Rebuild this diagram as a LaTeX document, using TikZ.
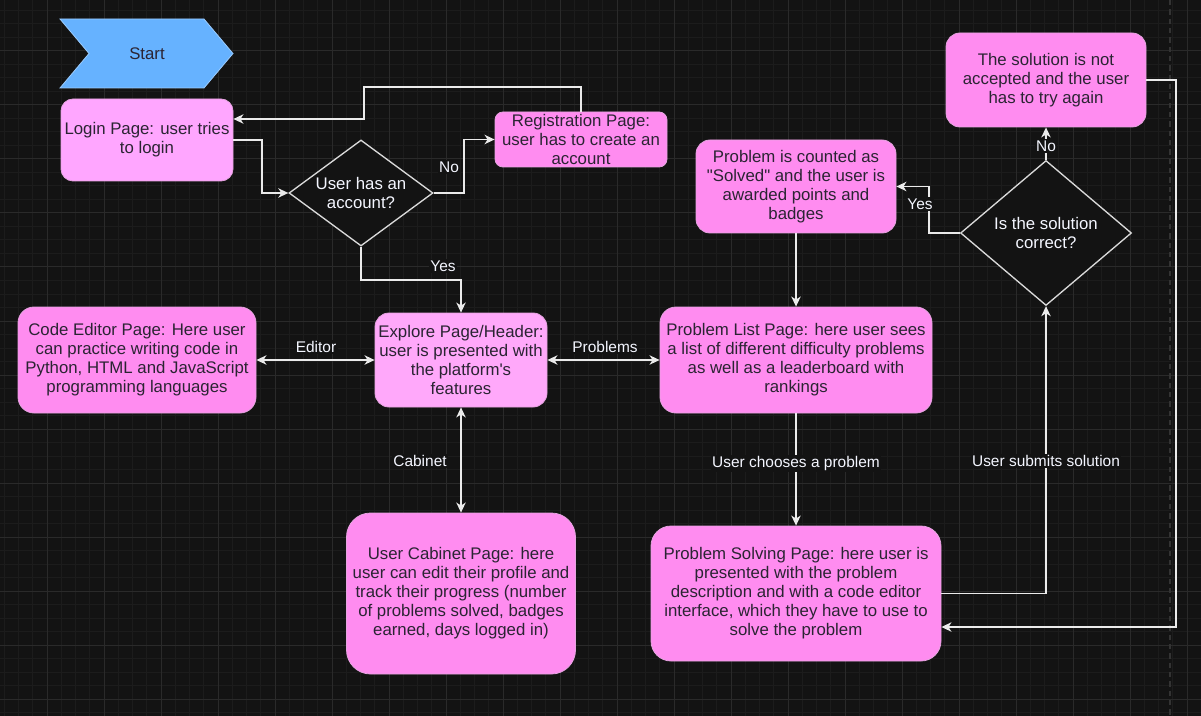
\documentclass[tikz,border=0pt]{standalone}
\usepackage{fontspec}
\setmainfont{Liberation Sans}
\usetikzlibrary{shapes.geometric,arrows.meta,calc}
\definecolor{bg}{HTML}{131313}
\definecolor{gridminor}{HTML}{1C1C1C}
\definecolor{gridmajor}{HTML}{2A2A2A}
\definecolor{pageline}{HTML}{333333}
\definecolor{pinkA}{HTML}{FFA6FF}
\definecolor{pinkE}{HTML}{FFA8FA}
\definecolor{pinkB}{HTML}{FF8CF0}
\definecolor{boxline}{HTML}{E6A3E0}
\definecolor{startfill}{HTML}{66B2FF}
\definecolor{startline}{HTML}{9ACCFF}
\definecolor{ink}{HTML}{2B2433}
\definecolor{wire}{HTML}{EBEBEB}
\definecolor{decline}{HTML}{DADADA}
\definecolor{labtext}{HTML}{F4F6FF}
\newcommand\myNodeFont{\fontsize{12.6pt}{14.25pt}\selectfont}
\newcommand\myLabFont{\fontsize{11.6pt}{13pt}\selectfont}
\tikzset{
  box/.style={rectangle, draw=boxline, line width=0.6pt, fill=pinkB, text=ink, align=center, inner sep=0pt, font=\myNodeFont},
  dec/.style={diamond, draw=decline, line width=1pt, fill=bg, inner sep=0pt},
  dectext/.style={text=labtext, font=\myNodeFont, align=center},
  conn/.style={draw=wire, line width=1.1pt, -{Stealth[length=7.5pt,width=7pt,inset=2.2pt]}},
  conntwo/.style={draw=wire, line width=1.1pt, {Stealth[length=7.5pt,width=7pt,inset=2.2pt]}-{Stealth[length=7.5pt,width=7pt,inset=2.2pt]}},
  lbl/.style={text=labtext, font=\myLabFont, fill=bg, inner sep=1pt},
}
\begin{document}
\begin{tikzpicture}[x=0.75pt,y=-0.75pt]
\fill[bg] (0,0) rectangle (1201,716);
\useasboundingbox (0,0) rectangle (1201,716);
% grid
\foreach \i in {0,...,83} \draw[gridminor, line width=0.75pt] ({4.25+\i*14.25},0) -- ({4.25+\i*14.25},716);
\foreach \i in {0,...,52} \draw[gridminor, line width=0.75pt] (0,{712.5-\i*13.5}) -- (1201,{712.5-\i*13.5});
\foreach \i in {0,...,20} \draw[gridmajor, line width=0.75pt] ({47+\i*57},0) -- ({47+\i*57},716);
\foreach \i in {0,...,12} \draw[gridmajor, line width=0.75pt] (0,{699-\i*54}) -- (1201,{699-\i*54});
\draw[pageline, line width=1pt, dash pattern=on 4pt off 3pt] (1170,0) -- (1170,716);

% start chevron
\filldraw[fill=startfill, draw=startline, line width=0.6pt]
  (60,19) -- (204,19) -- (233,53.5) -- (204,88) -- (60,88) -- (89,53.5) -- cycle;
\node[text=ink, font=\myNodeFont] (start) at (147,54) {Start};

% boxes
\node[box, fill=pinkA, minimum width=129pt, minimum height=61.5pt, rounded corners=9pt] (login) at (147,140) {Login Page: user tries\\to login};
\node[box, minimum width=129pt, minimum height=41.25pt, rounded corners=6pt] (reg) at (581,139.5) {Registration Page:\\user has to create an\\account};
\node[box, fill=pinkE, minimum width=129pt, minimum height=70.5pt, rounded corners=10.5pt] (explore) at (461,360) {Explore Page/Header:\\user is presented with\\the platform\textquotesingle s\\features};
\node[box, minimum width=178.5pt, minimum height=79.5pt, rounded corners=12pt] (code) at (137,360) {Code Editor Page: Here user\\can practice writing code in\\Python, HTML and JavaScript\\programming languages};
\node[box, minimum width=204pt, minimum height=79.5pt, rounded corners=12pt] (plist) at (796,360) {Problem List Page: here user sees\\a list of different difficulty problems\\as well as a leaderboard with\\rankings};
\node[box, minimum width=171.75pt, minimum height=120.75pt, rounded corners=18pt] (cabinet) at (461,593.5) {User Cabinet Page: here\\user can edit their profile and\\track their progress (number\\of problems solved, badges\\earned, days logged in)};
\node[box, minimum width=217.5pt, minimum height=101.25pt, rounded corners=15pt] (solving) at (796,593.5) {Problem Solving Page: here user is\\presented with the problem\\description and with a code editor\\interface, which they have to use to\\solve the problem};
\node[box, minimum width=150pt, minimum height=69.75pt, rounded corners=10.5pt] (counted) at (796,186.5) {Problem is counted as\\\textquotedbl Solved\textquotedbl{} and the user is\\awarded points and\\badges};
\node[box, minimum width=150pt, minimum height=70.5pt, rounded corners=10.5pt] (notacc) at (1046,80) {The solution is not\\accepted and the user\\has to try again};

% decisions
\node[dec, minimum width=108pt, minimum height=79.5pt,
  label={[dectext]center:User has an\\account?}] (d1) at (361,193) {};
\node[dec, minimum width=128.25pt, minimum height=108.75pt,
  label={[dectext]center:Is the solution\\correct?}] (d2) at (1046,233) {};

% bend points
\coordinate (aBend) at (262,140);
\coordinate (bTop) at (364,87);
\coordinate (bRet) at (364,119);
\coordinate (cBend) at (464,193);
\coordinate (dBend) at (461,280);
\coordinate (kBend) at (929,233);
\coordinate (mBend) at (1176,627);

% connectors
\draw[conn] (login.east) -- (aBend) |- (d1.west);
\draw[conn] (reg.north) |- (bTop) -- (bRet) -- (login.east |- bRet);
\draw[conn] (d1.east) -- (cBend) |- (reg.west);
\draw[conn] (d1.south) |- (dBend) -- (explore.north);
\draw[conntwo] (code.east) -- (explore.west);
\draw[conntwo] (explore.east) -- (plist.west);
\draw[conntwo] (explore.south) -- (cabinet.north);
\draw[conn] (counted.south) -- (plist.north);
\draw[conn] (plist.south) -- node[lbl, pos=0.45] (lChoose) {User chooses a problem} (solving.north);
\draw[conn] (solving.east) -| node[lbl, pos=0.73] (lSubmit) {User submits solution} (d2.south);
\draw[conn] (d2.west) -- (kBend) |- (counted.east);
\draw[conn] (d2.north) -- node[lbl, pos=0.42] (lNo2) {No} (notacc.south);
\draw[conn] (notacc.east) -| (mBend) -- (solving.east |- mBend);

% labels
\node[lbl] (lNo1) at (449,167) {No};
\node[lbl] (lYes1) at (443,266) {Yes};
\node[lbl] (lEditor) at (316,347) {Editor};
\node[lbl] (lProblems) at (605,347) {Problems};
\node[lbl] (lCabinet) at (420,461) {Cabinet};
\node[lbl] (lYes2) at (920,204) {Yes};
\end{tikzpicture}
\end{document}
